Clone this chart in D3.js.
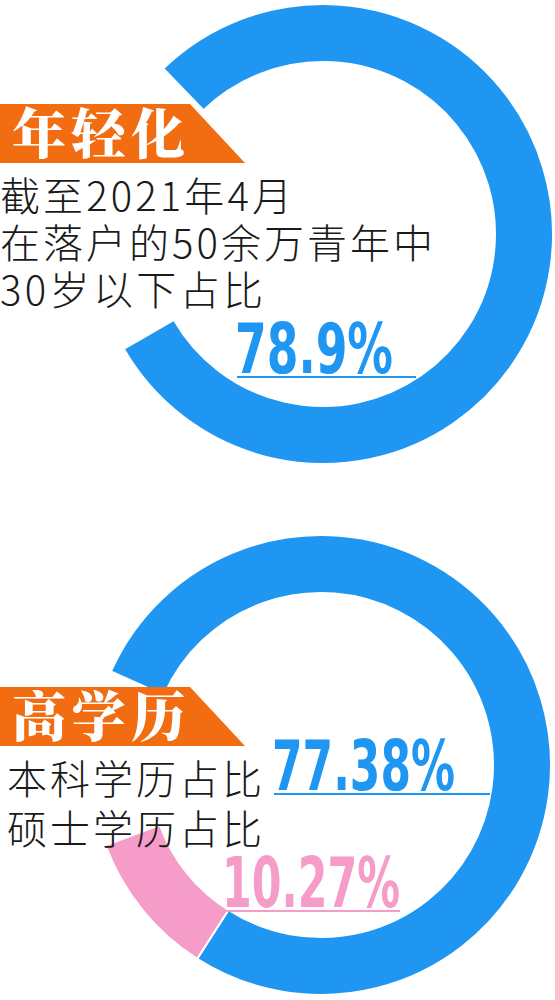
<!DOCTYPE html>
<html>
<head>
<meta charset="utf-8">
<script src="https://cdn.jsdelivr.net/npm/d3@7"></script>
<style>
  html, body { margin: 0; padding: 0; background: #fff; }
  svg { display: block; }
</style>
</head>
<body>
<div id="chart"></div>
<script>
// Chart data
const youthTitle = "年轻化"
const youthLines = ["截至2021年4月", "在落户的50余万青年中", "30岁以下占比"]
const youthValues = [78.9]

const eduTitle = "高学历"
const eduLabels = ["本科学历占比", "硕士学历占比"]
const eduValues = [77.38, 10.27]

const width = 555
const height = 1000
const colors = {
    "blue": "#1e96f2",
    "pink": "#f59cc9",
    "orange": "#f26d12",
    "text": "#1a1a1a"
}
const ring = { "outer": 230, "inner": 172 }
const numFont = "'Liberation Sans Narrow', 'DejaVu Sans Condensed', 'Roboto', sans-serif"
const cjkFont = "'Noto Sans CJK SC', 'Noto Sans', sans-serif"
const titleFont = "'Noto Serif CJK SC', 'Noto Sans CJK SC', serif"

const svg = d3.select("#chart")
    .append("svg")
    .attr("width", width)
    .attr("height", height)
    .attr("viewBox", `0 0 ${width} ${height}`)

const arc = d3.arc()
    .innerRadius(ring.inner)
    .outerRadius(ring.outer)

// Percent -> angle, starting at the upper-left end of each ring
function angleScale(startDeg) {
    const a0 = startDeg * Math.PI / 180
    return d3.scaleLinear().domain([0, 100]).range([a0, a0 + 2 * Math.PI])
}

function drawRing(cx, cy, values, fills, startDeg) {
    const angle = angleScale(startDeg)
    const ends = d3.cumsum(values)
    const g = svg.append("g").attr("transform", translate(cx, cy))
    g.selectAll("path")
        .data(values)
        .join("path")
        .attr("d", (d, i) => arc({
            startAngle: angle(ends[i] - d),
            endAngle: angle(ends[i])
        }))
        .attr("fill", (d, i) => fills[i])
        .attr("stroke", "#fff")
        .attr("stroke-width", 2)
}

function drawBanner(y, label) {
    const h = 59
    svg.append("path")
        .attr("d", `M0,${y}H190L245,${y + h}H0Z`)
        .attr("fill", colors.orange)
    svg.append("text")
        .attr("x", 12)
        .attr("y", y + 50)
        .attr("textLength", 173)
        .attr("lengthAdjust", "spacing")
        .attr("font-family", titleFont)
        .attr("font-weight", 900)
        .attr("font-size", 54)
        .attr("fill", "#fff")
        .text(label)
}

function drawLine(x, y, len, str) {
    svg.append("text")
        .attr("x", x)
        .attr("y", y)
        .attr("textLength", len)
        .attr("lengthAdjust", "spacing")
        .attr("font-family", cjkFont)
        .attr("font-weight", 300)
        .attr("font-size", 40)
        .attr("fill", colors.text)
        .text(str)
}

function drawNumber(x, y, len, value, color, lineEnd) {
    svg.append("text")
        .attr("x", x)
        .attr("y", y)
        .attr("textLength", len)
        .attr("lengthAdjust", "spacingAndGlyphs")
        .attr("font-family", numFont)
        .attr("font-weight", "bold")
        .attr("font-size", 70)
        .attr("fill", color)
        .text(value + "%")
    svg.append("line")
        .attr("x1", x + 2).attr("x2", lineEnd)
        .attr("y1", y + 4).attr("y2", y + 4)
        .attr("stroke", color)
        .attr("stroke-width", 2)
}

// Top: 年轻化
drawRing(323, 234, youthValues, [colors.blue], -44)
drawBanner(104, youthTitle)
const youthWidths = [292, 433, 263]
youthLines.forEach((s, i) => drawLine(0, 211 + i * 47, youthWidths[i], s))
drawNumber(235, 373, 158, youthValues[0], colors.blue, 416)

// Bottom: 高学历
drawRing(321, 765, eduValues, [colors.blue, colors.pink], -66)
drawBanner(687, eduTitle)
eduLabels.forEach((s, i) => drawLine(7, 794 + i * 50, 255, s))
drawNumber(272, 790, 183, eduValues[0], colors.blue, 490)
drawNumber(222, 907, 178, eduValues[1], colors.pink, 400)

function translate(x, y) {
    return `translate(${x},${y})`
}
</script>
</body>
</html>
